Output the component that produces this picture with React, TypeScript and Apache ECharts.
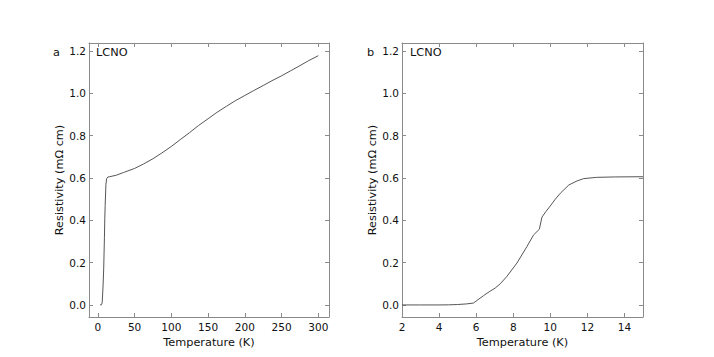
import React, { useEffect, useRef } from "react";
import * as echarts from "echarts";

// Panel a: full temperature range
const tempA = [3, 5, 5.9, 7, 8, 9, 9.5, 10, 11, 12, 13.7, 16, 25, 35, 50, 62, 75, 87, 100, 112, 125, 137, 150, 162, 175, 187, 200, 212, 225, 237, 250, 262, 275, 287, 300];
const rhoA = [0, 0.001, 0.01, 0.08, 0.17, 0.32, 0.41, 0.47, 0.57, 0.597, 0.605, 0.606, 0.613, 0.626, 0.645, 0.666, 0.691, 0.718, 0.749, 0.781, 0.815, 0.848, 0.880, 0.910, 0.939, 0.965, 0.990, 1.013, 1.037, 1.060, 1.083, 1.106, 1.131, 1.155, 1.178];

// Panel b: low-temperature transition
const tempB = [2, 3, 4, 4.5, 5, 5.5, 5.86, 6.1, 6.4, 6.7, 7.03, 7.3, 7.66, 8.2, 8.74, 9.1, 9.41, 9.55, 9.75, 10.0, 10.27, 10.54, 11.0, 11.44, 11.8, 12.5, 13.5, 15];
const rhoB = [0, 0, 0, 0.0005, 0.002, 0.005, 0.009, 0.025, 0.044, 0.062, 0.08, 0.1, 0.135, 0.198, 0.276, 0.331, 0.358, 0.415, 0.44, 0.468, 0.5, 0.528, 0.567, 0.586, 0.597, 0.603, 0.605, 0.606];

const yTicks = [0, 0.2, 0.4, 0.6, 0.8, 1.0, 1.2];
const xTicksA = [0, 50, 100, 150, 200, 250, 300];

const FONT = "DejaVu Sans";
const FRAME = "#8a8a8a";
const TEXT = "#111";
const LINE = "#555555";
const TICK_FS = 10.5;
const TITLE_FS = 11.3;

export default function App() {
  const ref = useRef<HTMLDivElement>(null);
  useEffect(() => {
    if (!ref.current) return;
    const chart = echarts.init(ref.current, undefined, { renderer: "svg" });
    const axisLine = { show: true, onZero: false, lineStyle: { color: FRAME, width: 1 } };
    const tick = (custom?: number[]) => ({
      show: true,
      inside: true,
      length: 4,
      lineStyle: { color: FRAME, width: 1 },
      ...(custom ? { customValues: custom } : {}),
    });
    const yMin = -0.057;
    const yMax = 1.238;
    const mkY = (gridIndex: number) => [
      {
        type: "value",
        gridIndex,
        min: yMin,
        max: yMax,
        position: "left",
        name: "Resistivity (mΩ cm)",
        nameLocation: "middle",
        nameGap: 21,
        nameTextStyle: { fontFamily: FONT, fontSize: TITLE_FS, color: TEXT },
        axisLine,
        axisTick: tick(yTicks),
        axisLabel: {
          customValues: yTicks,
          formatter: (v: number) => v.toFixed(1),
          fontFamily: FONT,
          fontSize: TICK_FS,
          color: TEXT,
          margin: 3,
        },
        splitLine: { show: false },
      },
      {
        type: "value",
        gridIndex,
        min: yMin,
        max: yMax,
        position: "right",
        axisLine,
        axisTick: tick(yTicks),
        axisLabel: { show: false },
        splitLine: { show: false },
      },
    ];
    const xNameStyle = { fontFamily: FONT, fontSize: TITLE_FS, color: TEXT };
    const xLabel = { fontFamily: FONT, fontSize: TICK_FS, color: TEXT, margin: 4 };
    chart.setOption({
      animation: false,
      backgroundColor: "#fff",
      grid: [
        { left: 89, top: 43, width: 240, height: 274 },
        { left: 402, top: 43, width: 241, height: 274 },
      ],
      xAxis: [
        {
          type: "value",
          gridIndex: 0,
          min: -12,
          max: 314.5,
          position: "bottom",
          name: "Temperature (K)",
          nameLocation: "middle",
          nameGap: 17,
          nameTextStyle: xNameStyle,
          axisLine,
          axisTick: tick(xTicksA),
          axisLabel: { ...xLabel, customValues: xTicksA, formatter: (v: number) => String(Math.round(v)) },
          splitLine: { show: false },
        },
        {
          type: "value",
          gridIndex: 0,
          min: -12,
          max: 314.5,
          position: "top",
          axisLine,
          axisTick: tick(xTicksA),
          axisLabel: { show: false },
          splitLine: { show: false },
        },
        {
          type: "value",
          gridIndex: 1,
          min: 2,
          max: 15,
          interval: 2,
          position: "bottom",
          name: "Temperature (K)",
          nameLocation: "middle",
          nameGap: 17,
          nameTextStyle: xNameStyle,
          axisLine,
          axisTick: tick(),
          axisLabel: { ...xLabel, showMaxLabel: false },
          splitLine: { show: false },
        },
        {
          type: "value",
          gridIndex: 1,
          min: 2,
          max: 15,
          interval: 2,
          position: "top",
          axisLine,
          axisTick: tick(),
          axisLabel: { show: false },
          splitLine: { show: false },
        },
      ],
      yAxis: [...mkY(0), ...mkY(1)],
      series: [
        {
          type: "line",
          xAxisIndex: 0,
          yAxisIndex: 0,
          data: tempA.map((t, i) => [t, rhoA[i]]),
          showSymbol: false,
          lineStyle: { color: LINE, width: 1 },
        },
        {
          type: "line",
          xAxisIndex: 2,
          yAxisIndex: 2,
          data: tempB.map((t, i) => [t, rhoB[i]]),
          showSymbol: false,
          lineStyle: { color: LINE, width: 1 },
        },
      ],
      graphic: [
        { type: "text", x: 53, y: 52, style: { text: "a", fontFamily: FONT, fontSize: TITLE_FS, fill: TEXT, verticalAlign: "middle" } },
        { type: "text", x: 96, y: 52, style: { text: "LCNO", fontFamily: FONT, fontSize: TITLE_FS, fill: TEXT, verticalAlign: "middle" } },
        { type: "text", x: 367, y: 52, style: { text: "b", fontFamily: FONT, fontSize: TITLE_FS, fill: TEXT, verticalAlign: "middle" } },
        { type: "text", x: 410, y: 52, style: { text: "LCNO", fontFamily: FONT, fontSize: TITLE_FS, fill: TEXT, verticalAlign: "middle" } },
      ],
    });
    return () => chart.dispose();
  }, []);
  return <div ref={ref} style={{ position: "fixed", left: 0, top: 0, width: 714, height: 357 }} />;
}
